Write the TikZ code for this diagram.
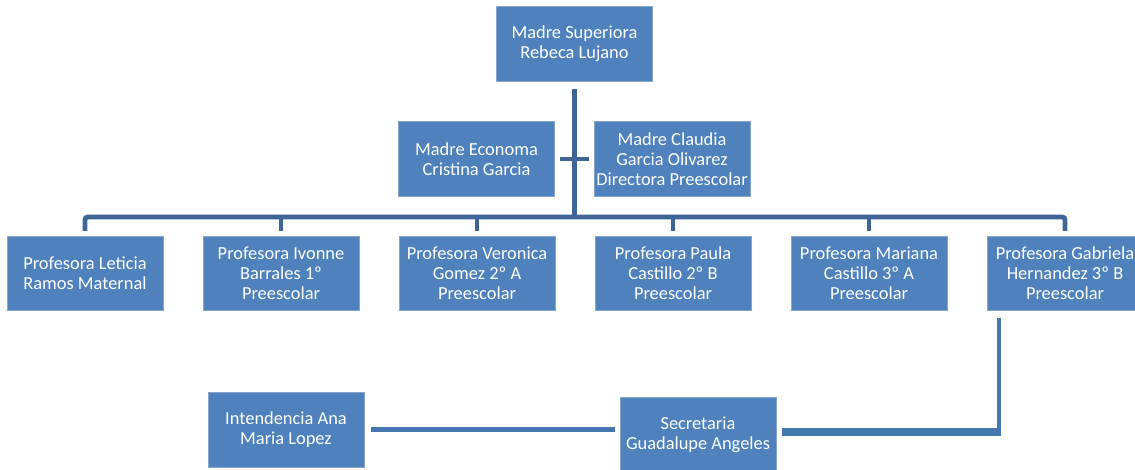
\documentclass[tikz,border=0pt]{standalone}
\usepackage{fontspec}
\setmainfont{Carlito}
\usepackage{tikz}

\definecolor{cajaazul}{HTML}{4F81BD}
\definecolor{bordeazul}{HTML}{86A5CF}
\definecolor{lineaazul}{HTML}{3D6596}
\definecolor{lineaclara}{HTML}{4777B0}

\begin{document}
\begin{tikzpicture}[x=0.75pt, y=-0.75pt,
		caja/.style={draw=bordeazul, line width=0.5pt, fill=cajaazul, text=white, align=center,
			minimum width=117pt, minimum height=56pt, inner sep=1pt,
			font=\fontsize{13.8}{15}\selectfont},
		linea/.style={draw=lineaazul, line width=3.6pt},
		lineabaja/.style={draw=lineaclara, line width=3.6pt}]
		\useasboundingbox (0,0) rectangle (1135,470);

		% direccion
		\node [caja] (sup) at (574.5, 44) {Madre Superiora\\Rebeca Lujano};
		\node [caja] (eco) at (476.5, 159) {Madre Economa\\Cristina Garcia};
		\node [caja] (cla) at (672, 159) {Madre Claudia\\Garcia Olivarez\\Directora Preescolar};

		% profesoras
		\node [caja] (p1) at (85, 273.5) {Profesora Leticia\\Ramos Maternal};
		\node [caja] (p2) at (281, 273.5) {Profesora Ivonne\\Barrales 1º\\Preescolar};
		\node [caja] (p3) at (477, 273.5) {Profesora Veronica\\Gomez 2º A\\Preescolar};
		\node [caja] (p4) at (673, 273.5) {Profesora Paula\\Castillo 2º B\\Preescolar};
		\node [caja] (p5) at (869, 273.5) {Profesora Mariana\\Castillo 3º A\\Preescolar};
		\node [caja] (p6) at (1065, 273.5) {Profesora Gabriela\\Hernandez 3º B\\Preescolar};

		% personal
		\node [caja] (int) at (286, 429.5) {Intendencia Ana\\Maria Lopez};
		\node [caja] (sec) at (698, 434.5) {Secretaria\\Guadalupe Angeles};

		\coordinate (barra) at (574, 217);
		\coordinate (giro) at (999, 432);

		\draw [linea, shorten <=5.25pt] (sup.south) -- (sup.south |- barra);
		\draw [linea, shorten <=3.75pt, shorten >=3.75pt] (eco.east) -- (cla.west);
		\draw [linea, rounded corners=2pt] ([yshift=3.75pt]p1.north) |- (barra) -| ([yshift=3.75pt]p6.north);
		\foreach \p in {p2,p3,p4,p5}
			\draw [linea] ([yshift=3.75pt]\p.north) -- (\p.north |- barra);

		\draw [lineabaja, line width=3pt, shorten <=5pt] (giro |- p6.south) -- ([yshift=-2.5pt]giro);
		\draw [lineabaja, line width=6pt] ([xshift=1.5pt]giro) -- ([xshift=4.5pt]sec.east |- giro);
		\draw [lineabaja, shorten <=5.25pt, shorten >=3.75pt] (int.east) -- (int.east -| sec.west);

	\end{tikzpicture}
\end{document}
